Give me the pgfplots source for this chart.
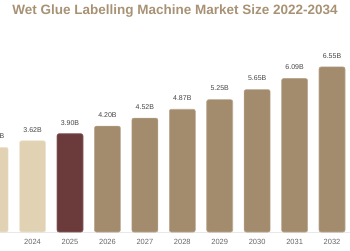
\documentclass[border=0pt]{standalone}
\usepackage{pgfplots}
\pgfplotsset{compat=1.18}
\usepackage{fontspec}
\setmainfont{Liberation Sans}
\setsansfont{Liberation Sans}

\definecolor{histbar}{HTML}{E2D2B4}
\definecolor{curbar}{HTML}{6B3B3B}
\definecolor{fcstbar}{HTML}{A38B6D}
\definecolor{titlecol}{HTML}{A89275}
\definecolor{labelcol}{HTML}{444444}
\definecolor{tickcol}{HTML}{666666}

% Market size (USD billion), 2022 = 0 ... 2034 = 12
\pgfplotstableread{
idx val
0 3.12
1 3.36
2 3.62
}\histdata
\pgfplotstableread{
idx val
3 3.90
}\curdata
\pgfplotstableread{
idx val
4 4.20
5 4.52
6 4.87
7 5.25
8 5.65
9 6.09
10 6.55
11 7.05
12 7.59
}\fcstdata

\begin{document}
\begin{tikzpicture}
\useasboundingbox (0,0) rectangle (350pt,250pt);
\clip (0,0) rectangle (350pt,250pt);
\begin{axis}[
  at={(0pt,18pt)}, anchor=south west,
  scale only axis, width=350pt, height=232pt,
  xmin=1.130, xmax=10.48,
  ymin=0, ymax=9.206,
  axis x line*=bottom, axis y line=none,
  x axis line style={draw=black!9, line width=0.6pt},
  xtick={0,...,12},
  xticklabels={2022,2023,2024,2025,2026,2027,2028,2029,2030,2031,2032,2033,2034},
  major tick length=0pt,
  xticklabel style={font=\fontsize{7.5}{9}\selectfont, text=tickcol, yshift=-3.5pt},
  /pgf/number format/assume math mode=true,
  ybar, bar width=26pt, bar shift=0pt,
  clip=false,
  nodes near coords={\pgfmathprintnumber[fixed,fixed zerofill,precision=2,assume math mode=true]{\pgfplotspointmeta}B},
  every node near coord/.append style={font=\fontsize{7}{8}\selectfont, text=labelcol, yshift=5pt},
  /tikz/rounded corners=2pt,
]
\addplot[fill=histbar, draw=histbar!60!white, line width=0.6pt] table[x=idx,y=val]{\histdata};
\addplot[fill=curbar, draw=curbar!80!white, line width=0.6pt] table[x=idx,y=val]{\curdata};
\addplot[fill=fcstbar, draw=fcstbar!75!white, line width=0.6pt] table[x=idx,y=val]{\fcstdata};
\end{axis}
\node[anchor=base, text=titlecol, font=\bfseries\fontsize{13.5}{16}\selectfont] at (175pt,236pt) {Wet Glue Labelling Machine Market Size 2022-2034};
\end{tikzpicture}
\end{document}
